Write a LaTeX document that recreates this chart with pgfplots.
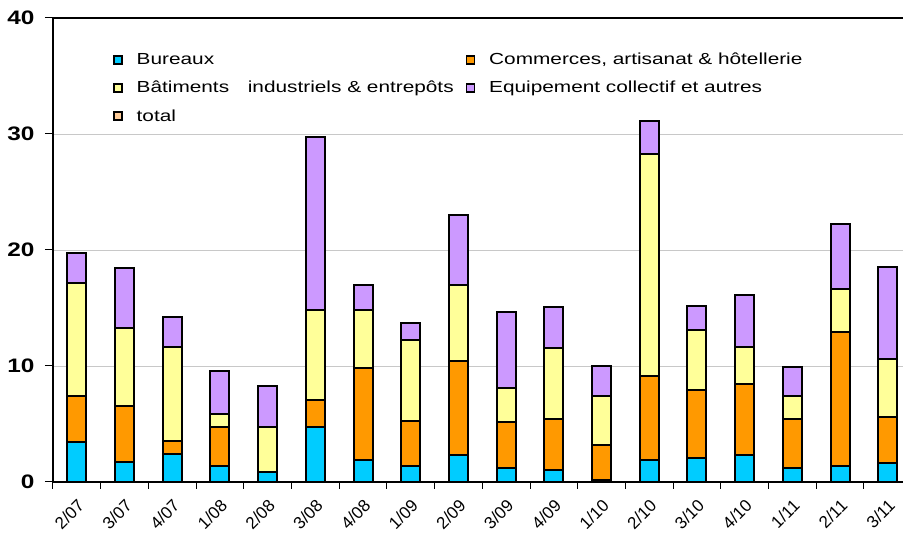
\documentclass[border=0pt]{standalone}
\usepackage{fontspec}
\setmainfont{Liberation Sans}
\usepackage{graphicx}
\usepackage{pgfplots}
\usepackage{pgfplotstable}
\pgfplotsset{compat=1.18}
\usetikzlibrary{calc}

\definecolor{cBur}{HTML}{00CCFF}
\definecolor{cCom}{HTML}{FF9900}
\definecolor{cBat}{HTML}{FFFF99}
\definecolor{cEqu}{HTML}{CC99FF}
\definecolor{cTot}{HTML}{FFCC99}
\definecolor{cGrid}{HTML}{C8C8C8}

% the reference looks stretched sideways
\newcommand{\wide}[1]{\scalebox{1.25}[1]{#1}}
\newcommand{\wider}[1]{\scalebox{1.3}[1]{#1}}

% x  bureaux commerces batiments equipement
\pgfplotstableread{
x  bur   com   bat   equ
0  3.45  3.98  9.76  2.53
1  1.73  4.83  6.74  5.13
2  2.45  1.09  8.12  2.54
3  1.38  3.32  1.15  3.74
4  0.86  0.00  3.84  3.56
5  4.70  2.36  7.77  14.87
6  1.87  7.92  5.04  2.16
7  1.38  3.86  7.00  1.44
8  2.36  8.09  6.54  6.04
9  1.24  3.92  2.96  6.51
10 1.01  4.46  6.05  3.54
11 0.20  2.97  4.26  2.56
12 1.87  7.26  19.14 2.82
13 2.10  5.82  5.18  2.10
14 2.36  6.05  3.19  4.52
15 1.24  4.15  2.01  2.48
16 1.38  11.52 3.71  5.64
17 1.67  3.94  4.99  7.91
}\data

\begin{document}
\begin{tikzpicture}
\begin{axis}[
    name=ax,
    scale only axis,
    width=850pt, height=464pt,
    xmin=-0.5, xmax=17.32,
    ymin=0, ymax=40,
    ybar stacked,
    bar width=0.4,
    axis x line*=bottom,
    axis y line*=left,
    axis line style={-, line width=2pt, black},
    tick align=outside,
    tick style={black, line width=1pt},
    ytick={0,10,20,30,40},
    yticklabels={\wide{0},\wide{10},\wide{20},\wide{30},\wide{40}},
    major tick length=8pt,
    ymajorgrids,
    grid style={cGrid, line width=0.9pt},
    xtick={0,...,17},
    xticklabels={2/07,3/07,4/07,1/08,2/08,3/08,4/08,1/09,2/09,3/09,4/09,1/10,2/10,3/10,4/10,1/11,2/11,3/11},
    x tick style={draw=none},
    minor xtick={-0.5,0.5,...,16.5},
    minor x tick style={draw=black, line width=1pt},
    minor tick length=7pt,
    yticklabel style={font=\bfseries\fontsize{19.5}{20}\selectfont, xshift=-7pt},
    xticklabel style={font=\fontsize{17}{17}\selectfont, inner sep=1pt, rotate=45, anchor=east, xshift=-5pt, yshift=-12pt},
    legend columns=2,
    legend cell align=left,
    legend style={at={(axis description cs:0,1)}, anchor=north west,
        xshift=57pt, yshift=-31pt, draw=none, fill=none,
        font=\fontsize{16}{18}\selectfont, row sep=11pt,
        /tikz/every odd column/.append style={column sep=12pt},
        /tikz/every even column/.append style={column sep=10pt}},
    legend image code/.code={\draw[#1, draw=black, line width=1.5pt] (0pt,-4pt) rectangle (8pt,4pt);},
    every axis plot/.append style={draw=black, line width=2pt},
]
\addplot[fill=cBur] table[x=x, y=bur] {\data};
\addlegendentry{\wider{Bureaux}}
\addplot[fill=cCom] table[x=x, y=com] {\data};
\addlegendentry{\wider{Commerces, artisanat \& hôtellerie}}
\addplot[fill=cBat] table[x=x, y=bat] {\data};
\addlegendentry{\wider{Bâtiments\hspace{0.9em}industriels \& entrepôts}}
\addplot[fill=cEqu] table[x=x, y=equ] {\data};
\addlegendentry{\wider{Equipement collectif et autres}}
\addlegendimage{fill=cTot}
\addlegendentry{\wider{total}}
\draw[line width=2pt] (rel axis cs:0,1) -- (rel axis cs:1,1);
\end{axis}
\pgfresetboundingbox
\path[use as bounding box] ($(ax.south west)+(-53pt,-62pt)$) rectangle ($(ax.north east)+(0pt,18pt)$);
\end{tikzpicture}
\end{document}
